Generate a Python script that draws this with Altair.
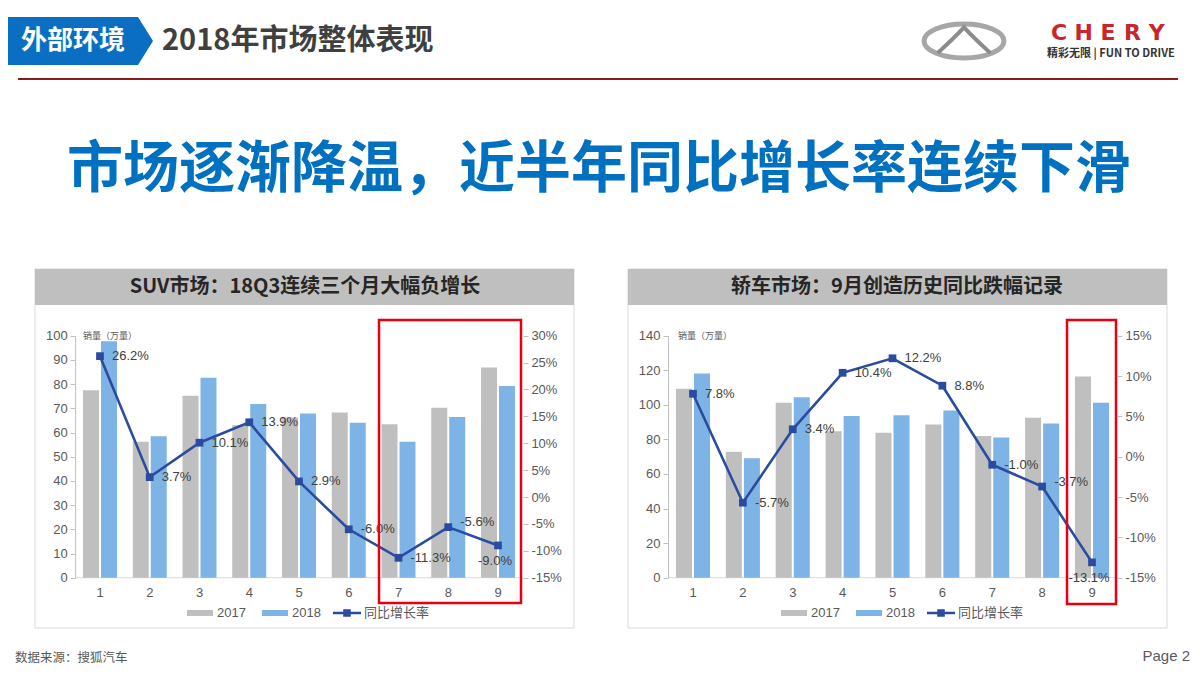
import altair as alt
import pandas as pd

# ---------------- data ----------------
months = [1, 2, 3, 4, 5, 6, 7, 8, 9]
suv_2017 = [77.5, 56.2, 75.2, 63.0, 66.2, 68.3, 63.4, 70.2, 86.9]
suv_2018 = [97.7, 58.5, 82.6, 71.8, 67.9, 64.0, 56.2, 66.4, 79.2]
suv_growth = [26.2, 3.7, 10.1, 13.9, 2.9, -6.0, -11.3, -5.6, -9.0]
sedan_2017 = [109.3, 72.8, 101.2, 84.7, 83.8, 88.6, 82.0, 92.5, 116.4]
sedan_2018 = [118.1, 69.1, 104.4, 93.6, 94.0, 96.7, 81.1, 89.2, 101.2]
sedan_growth = [7.8, -5.7, 3.4, 10.4, 12.2, 8.8, -1.0, -3.7, -13.1]
years = ["2017", "2018"]
series_name = "同比增长率"
suv_ticks = list(range(0, 101, 10))
suv_pct_ticks = list(range(-15, 31, 5))
sedan_ticks = list(range(0, 141, 20))
sedan_pct_ticks = list(range(-15, 16, 5))

header_tag = "外部环境"
header_title = "2018年市场整体表现"
headline = "市场逐渐降温，近半年同比增长率连续下滑"
suv_title = "SUV市场：18Q3连续三个月大幅负增长"
sedan_title = "轿车市场：9月创造历史同比跌幅记录"
unit_label = "销量（万量）"
source_text = "数据来源：搜狐汽车"
page_text = "Page 2"
brand = "CHERY"
slogan = "精彩无限 | FUN TO DRIVE"

# ---------------- layout helpers ----------------
W, H = 1184, 659
OX, OY = 8, 8


def px(x):
    return x - OX


def py(y):
    return y - OY


FONT_NUM = "'Liberation Sans', Arial, 'Noto Sans CJK SC', sans-serif"
FONT_CJK = "'Noto Sans CJK SC', 'Noto Sans', sans-serif"
GRAY = "#BFBFBF"
BLUE = "#7EB4E5"
LINE = "#2B4BA1"
TXT = "#595959"

one = pd.DataFrame({"k": [0]})


def text_layer(txt, x, y, size, color, weight="normal", align="center", font=FONT_CJK):
    return alt.Chart(one).mark_text(
        text=txt, fontSize=size, color=color, fontWeight=weight,
        align=align, baseline="middle", font=font
    ).encode(x=alt.value(px(x)), y=alt.value(py(y)))


def rect_layer(x0, y0, x1, y1, **kw):
    return alt.Chart(one).mark_rect(**kw).encode(
        x=alt.value(px(x0)), x2=alt.value(px(x1)),
        y=alt.value(py(y0)), y2=alt.value(py(y1))
    )


def symbol_layer(x, y, shape, size, **kw):
    return alt.Chart(one).mark_point(shape=shape, size=size, opacity=1, **kw).encode(
        x=alt.value(px(x)), y=alt.value(py(y))
    )


Y0, Y1 = py(577.7), py(335.7)


def panel(v17, v18, growth, ymax, yticks, pmin, pmax, pticks,
          x_first, x_last, legend_x, line_legend_x, up, down):
    step = (x_last - x_first) / 8
    r0 = px(x_first - step / 2)
    r1 = px(x_last + step / 2)
    bar_df = pd.DataFrame({
        "month": months * 2,
        "year": [years[0]] * 9 + [years[1]] * 9,
        "value": v17 + v18,
    })
    g_df = pd.DataFrame({
        "month": months,
        "growth": growth,
        "series": [series_name] * 9,
        "label": [f"{g:.1f}%" for g in growth],
    })
    m_df = pd.DataFrame({"month": months})
    xscale = alt.Scale(range=[r0, r1], paddingInner=0.317, paddingOuter=0.1585)
    xm = alt.X("month:O", axis=None)
    baseline = alt.Chart(one).mark_rule(color="#D9D9D9", strokeWidth=1).encode(
        x=alt.value(r0), x2=alt.value(r1), y=alt.value(Y0))
    bars = alt.Chart(bar_df).mark_bar().encode(
        x=alt.X("month:O", scale=xscale, axis=None),
        xOffset=alt.XOffset("year:N", scale=alt.Scale(paddingInner=0.111)),
        y=alt.Y("value:Q", scale=alt.Scale(domain=[0, ymax], range=[Y0, Y1], nice=False),
                axis=alt.Axis(orient="left", offset=-r0, title=None, values=yticks,
                              tickSize=5, tickColor=GRAY, domainColor=GRAY, grid=False,
                              labelPadding=3, labelFont=FONT_NUM, labelFontSize=13,
                              labelColor=TXT, zindex=1)),
        color=alt.Color("year:N", scale=alt.Scale(domain=years, range=[GRAY, BLUE]),
                        legend=alt.Legend(
                            orient="none", legendX=px(legend_x), legendY=py(600),
                            direction="horizontal", title=None,
                            symbolType="M-1,-0.23H1V0.23H-1Z", symbolSize=676,
                            symbolStrokeWidth=0, labelFont=FONT_NUM, labelFontSize=13,
                            labelColor=TXT, columnPadding=16, labelOffset=4, padding=0,
                            zindex=1)),
    )
    xlabels = alt.Chart(m_df).mark_text(
        font=FONT_NUM, fontSize=13, color=TXT, baseline="middle", align="center"
    ).encode(x=xm, y=alt.value(py(593)), text="month:N")
    ypct = alt.Y("growth:Q", scale=alt.Scale(domain=[pmin, pmax], range=[Y0, Y1], nice=False, zero=False),
                 axis=alt.Axis(orient="right", offset=r1 - W, title=None, values=pticks,
                               tickSize=5, tickColor=GRAY, domain=False, grid=False,
                               labelPadding=3, labelFont=FONT_NUM, labelFontSize=13,
                               labelColor=TXT, labelExpr="datum.value + '%'", zindex=1))
    line = alt.Chart(g_df).mark_line(color=LINE, strokeWidth=2.6).encode(x=xm, y=ypct)
    pts = alt.Chart(g_df).mark_square(size=60, opacity=1).encode(
        x=xm, y=ypct,
        color=alt.Color("series:N", scale=alt.Scale(domain=[series_name], range=[LINE]),
                        legend=alt.Legend(
                            orient="none", legendX=px(line_legend_x), legendY=py(599),
                            title=None,
                            symbolType="M-1,-0.09H1V0.09H-1Z M-0.27,-0.27H0.27V0.27H-0.27Z",
                            symbolSize=784, symbolStrokeWidth=0, labelFont=FONT_CJK,
                            labelFontSize=13, labelColor=TXT, labelOffset=3, padding=0,
                            zindex=1)),
    )
    normal_df = g_df[~g_df["month"].isin(up + down)]
    up_df = g_df[g_df["month"].isin(up)]
    down_df = g_df[g_df["month"].isin(down)]
    lab_kw = dict(font=FONT_NUM, fontSize=13, color="#404040", baseline="middle")
    lab_n = alt.Chart(normal_df).mark_text(align="left", dx=12, **lab_kw).encode(
        x=xm, y=ypct, text="label:N")
    lab_u = alt.Chart(up_df).mark_text(align="left", dx=12, dy=-5, **lab_kw).encode(
        x=xm, y=ypct, text="label:N")
    lab_d = alt.Chart(down_df).mark_text(align="center", dx=-3, dy=16, **lab_kw).encode(
        x=xm, y=ypct, text="label:N")
    grp = alt.layer(line, pts, lab_n, lab_u, lab_d)
    return alt.layer(baseline, bars, xlabels, grp).resolve_scale(y="independent", color="independent")


left = panel(suv_2017, suv_2018, suv_growth, 100, suv_ticks, -15, 30, suv_pct_ticks,
             100, 498, 187, 333, [8], [9])
right = panel(sedan_2017, sedan_2018, sedan_growth, 140, sedan_ticks, -15, 15, sedan_pct_ticks,
              693, 1092, 781, 927, [8], [9])

# ---------------- decorations ----------------
pent = "M-1,-0.3137L0.804,-0.3137L1,0L0.804,0.3137L-1,0.3137Z"
ellipse = "M-0.94,0A0.94,0.4 0 1,1 0.94,0A0.94,0.4 0 1,1 -0.94,0Z"
chevron = "M-0.62,0.28Q-0.25,-0.05 0,-0.32Q0.25,-0.05 0.62,0.28"

deco_back = [
    symbol_layer(76.5, 41, pent, 23409, filled=True, color="#0A6FC2"),
    text_layer(header_tag, 73, 41, 26, "white", "bold"),
    text_layer(header_title, 162, 41, 29, "#404040", "bold", "left"),
    alt.Chart(one).mark_rule(color="#8B1A1A", strokeWidth=2).encode(
        x=alt.value(px(18)), x2=alt.value(px(1178)), y=alt.value(py(79))),
    symbol_layer(964, 41, ellipse, 7225, filled=False, color="#A6A6A6", strokeWidth=5),
    symbol_layer(964, 41, chevron, 7225, filled=False, color="#8C8C8C", strokeWidth=4),
    text_layer(slogan, 1047, 54, 11, "#333333", "bold", "left", FONT_CJK),
    text_layer(headline, 599, 170, 56, "#0070C0", "bold"),
    rect_layer(35, 269, 574, 628, fill="white", stroke="#D9D9D9", strokeWidth=1),
    rect_layer(628, 269, 1167, 628, fill="white", stroke="#D9D9D9", strokeWidth=1),
    rect_layer(35, 269, 574, 305, fill="#BFBFBF"),
    rect_layer(628, 269, 1167, 305, fill="#BFBFBF"),
    text_layer(suv_title, 305, 287, 20, "#262626", "bold"),
    text_layer(sedan_title, 897, 287, 20, "#262626", "bold"),
    text_layer(unit_label, 83, 336, 9, TXT, "normal", "left"),
    text_layer(unit_label, 678, 336, 9, TXT, "normal", "left"),
    text_layer(source_text, 15, 658, 12.5, TXT, "normal", "left"),
    text_layer(page_text, 1190, 656, 15, TXT, "normal", "right", FONT_NUM),
]
for i, ch in enumerate(brand):
    deco_back.append(text_layer(ch, 1059.2 + 24.4 * i, 33, 22, "#C9252C", "bold", "center",
                                "'DejaVu Sans', sans-serif"))

deco_front = [
    rect_layer(379, 320, 521, 603, fillOpacity=0, stroke="#E60012", strokeWidth=2.5),
    rect_layer(1067, 320, 1116, 604, fillOpacity=0, stroke="#E60012", strokeWidth=2.5),
]

chart = alt.layer(*deco_back, left, right, *deco_front).resolve_scale(
    x="independent", y="independent", color="independent", xOffset="independent"
).properties(
    width=W, height=H, padding=0, autosize=alt.AutoSizeParams(type="none")
).configure_view(strokeWidth=0)

chart.save("out.html", embed_options={"renderer": "svg", "actions": False})
